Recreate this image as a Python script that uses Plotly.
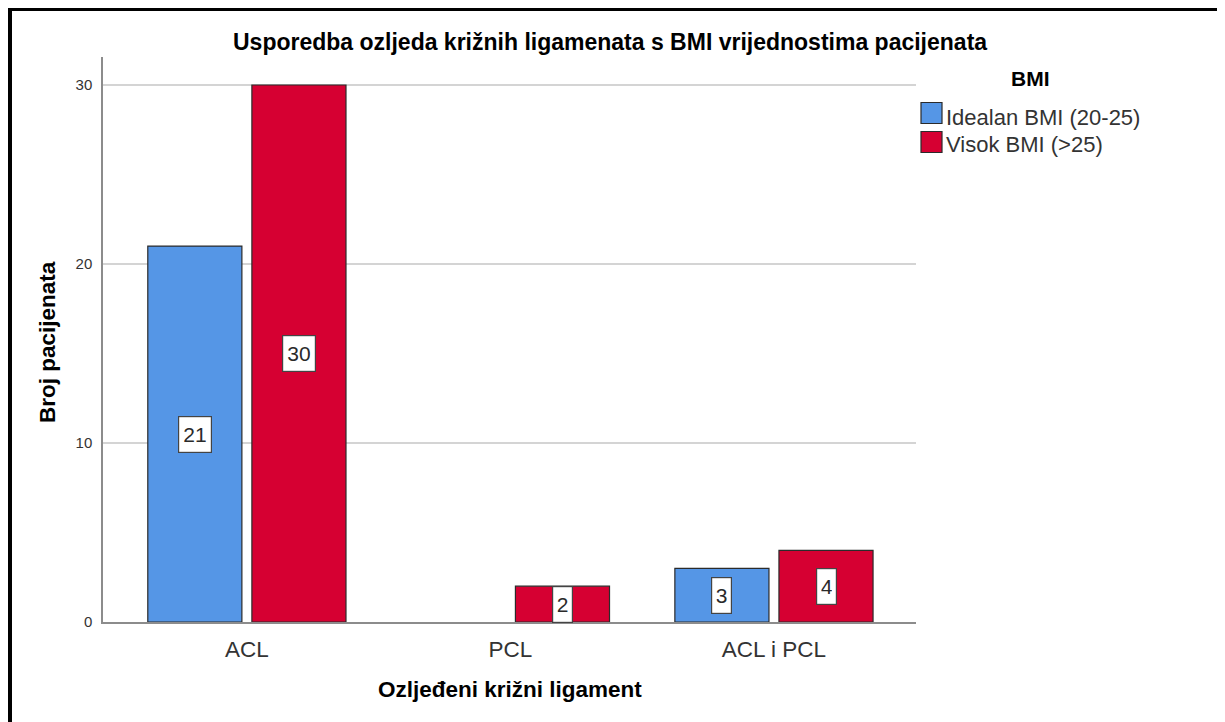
import plotly.graph_objects as go

# ---- data ----
categories = ["ACL", "PCL", "ACL i PCL"]
series_names = ["Idealan BMI (20-25)", "Visok BMI (>25)"]
ideal_bmi = [21, 0, 3]
high_bmi = [30, 2, 4]
y_ticks = [0, 10, 20, 30]

title_text = "Usporedba ozljeda križnih ligamenata s BMI vrijednostima pacijenata"
x_title = "Ozljeđeni križni ligament"
y_title = "Broj pacijenata"
legend_title = "BMI"

colors = ["#5596E6", "#D60032"]
FONT = "Liberation Sans, Arial, sans-serif"

OFF = 8  # page body margin
W, H = 1225 - OFF, 722 - OFF
L, R, T, B = 103, 916, 57, 622  # plot area in reference px
BARGAP = 0.21
BARGROUPGAP = 0.096


def px_x(p):
    return (p - L) / (R - L)


def px_y(p):
    return (B - p) / (B - T)


fig = go.Figure()
series = [ideal_bmi, high_bmi]
for name, vals, col in zip(series_names, series, colors):
    fig.add_trace(go.Bar(
        x=categories, y=vals, name=name,
        marker=dict(color=col, line=dict(color="#2b2b2b",
                                         width=[1.2 if v > 0 else 0 for v in vals])),
        showlegend=False, hoverinfo="x+y+name",
    ))

annotations = []
# value labels in white boxes at bar middle
slot = (1 - BARGAP) / 2
for si, vals in enumerate(series):
    offset = (si - 0.5) * slot
    for ci, v in enumerate(vals):
        if v <= 0:
            continue
        s = str(v)
        annotations.append(dict(
            x=ci + offset, y=v / 2, xref="x", yref="y",
            text=s, showarrow=False,
            font=dict(family=FONT, size=21, color="#2a2a2a"),
            width=12.5 * len(s) - 1.5, height=27, align="center",
            bgcolor="white", bordercolor="#444444", borderwidth=1.2, borderpad=4,
        ))

# title
annotations.append(dict(
    x=px_x(610), y=px_y(42), xref="paper", yref="paper", text=f"<b>{title_text}</b>",
    showarrow=False, xanchor="center", yanchor="middle",
    font=dict(family=FONT, size=23, color="#000000"),
))
# axis titles
annotations.append(dict(
    x=px_x(510), y=px_y(689), xref="paper", yref="paper", text=f"<b>{x_title}</b>",
    showarrow=False, xanchor="center", yanchor="middle",
    font=dict(family=FONT, size=22.5, color="#000000"),
))
annotations.append(dict(
    x=px_x(47), y=px_y(342), xref="paper", yref="paper", text=f"<b>{y_title}</b>",
    showarrow=False, xanchor="center", yanchor="middle", textangle=-90,
    font=dict(family=FONT, size=22.5, color="#000000"),
))
# legend (manual)
annotations.append(dict(
    x=px_x(1030), y=px_y(79), xref="paper", yref="paper", text=f"<b>{legend_title}</b>",
    showarrow=False, xanchor="center", yanchor="middle",
    font=dict(family=FONT, size=21, color="#000000"),
))
shapes = []
legend_rows = [(113, 117), (142, 144)]
for (sw_c, tx_c), name, col in zip(legend_rows, series_names, colors):
    shapes.append(dict(
        type="rect", xref="paper", yref="paper",
        x0=px_x(921), x1=px_x(942), y0=px_y(sw_c - 10.5), y1=px_y(sw_c + 10.5),
        fillcolor=col, line=dict(color="#2b2b2b", width=1.2),
    ))
    annotations.append(dict(
        x=px_x(944), y=px_y(tx_c), xref="paper", yref="paper", text=name,
        showarrow=False, xanchor="left", yanchor="middle",
        font=dict(family=FONT, size=22, color="#333333"),
    ))

# outer black frame
shapes.append(dict(
    type="rect", xref="paper", yref="paper",
    x0=px_x(9), x1=px_x(1223.5), y0=px_y(8), y1=px_y(740),
    line=dict(color="black", width=6), fillcolor="rgba(0,0,0,0)", layer="above",
))

y_top = (B - T) / ((B - 85) / 30)
fig.update_layout(
    width=W, height=H,
    margin=dict(l=L - OFF, r=1225 - R, t=T - OFF, b=722 - B),
    paper_bgcolor="white", plot_bgcolor="white",
    barmode="group", bargap=BARGAP, bargroupgap=BARGROUPGAP,
    font=dict(family=FONT, color="#333333"),
    annotations=annotations, shapes=shapes,
    xaxis=dict(
        type="category", range=[-0.546, 2.539],
        showline=True, linecolor="#8c8c8c", linewidth=1.5,
        ticks="", showgrid=False, zeroline=False,
        tickfont=dict(family=FONT, size=22.5, color="#333333"),
        ticklabelstandoff=6,
    ),
    yaxis=dict(
        range=[0, y_top], tickvals=y_ticks,
        showline=True, linecolor="#8c8c8c", linewidth=1.5,
        ticks="", showgrid=True, gridcolor="#d4d4d4", gridwidth=2,
        zeroline=False,
        tickfont=dict(family=FONT, size=15, color="#333333"),
        ticklabelstandoff=6,
    ),
)

fig.write_html("out.html")
